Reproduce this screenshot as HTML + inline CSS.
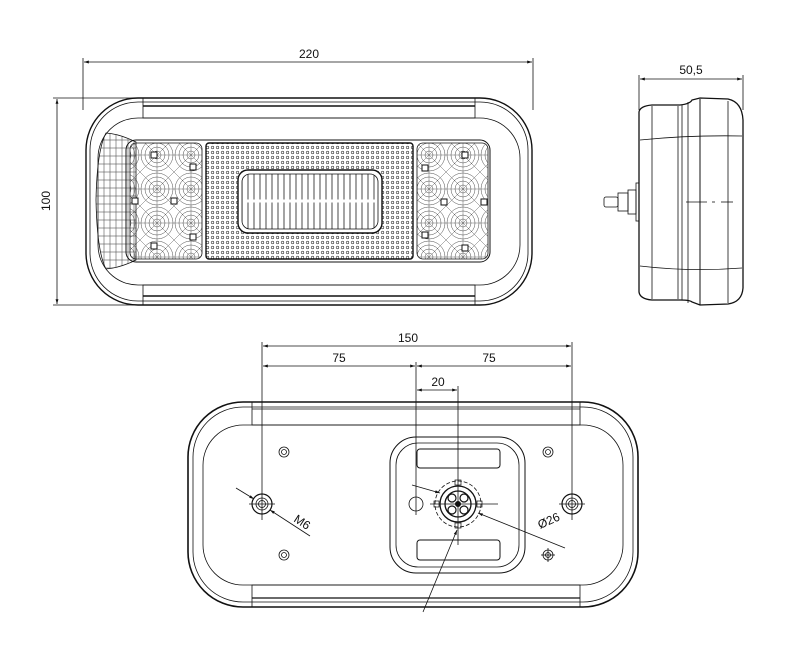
<!DOCTYPE html>
<html><head><meta charset="utf-8"><style>html,body{margin:0;padding:0;background:#fff}svg{display:block}</style></head>
<body>
<svg width="800" height="672" viewBox="0 0 800 672" xmlns="http://www.w3.org/2000/svg" font-family="Liberation Sans, sans-serif" fill="none" stroke="#111" stroke-width="1">
<defs>
<pattern id="dots" width="5" height="5" patternUnits="userSpaceOnUse"><circle cx="2.5" cy="2.5" r="1.3" stroke="#333" stroke-width="0.6"/></pattern>
<pattern id="vl" width="6" height="10" patternUnits="userSpaceOnUse"><line x1="2" y1="0" x2="2" y2="10" stroke="#333" stroke-width="0.9"/></pattern>
<pattern id="lens" width="6" height="8" patternUnits="userSpaceOnUse"><line x1="2" y1="0" x2="2" y2="8" stroke="#555" stroke-width="0.6"/><line x1="0" y1="4" x2="6" y2="4" stroke="#555" stroke-width="0.6"/></pattern>
<pattern id="web" width="34" height="34" patternUnits="userSpaceOnUse" x="4" y="2"><circle cx="17" cy="17" r="16" stroke="#444" stroke-width="0.5"/><circle cx="17" cy="17" r="12" stroke="#444" stroke-width="0.5"/><circle cx="17" cy="17" r="8" stroke="#444" stroke-width="0.5"/><circle cx="17" cy="17" r="4" stroke="#444" stroke-width="0.5"/><line x1="0" y1="17" x2="34" y2="17" stroke="#444" stroke-width="0.4"/><line x1="17" y1="0" x2="17" y2="34" stroke="#444" stroke-width="0.4"/><line x1="0" y1="0" x2="34" y2="34" stroke="#444" stroke-width="0.4"/><line x1="34" y1="0" x2="0" y2="34" stroke="#444" stroke-width="0.4"/></pattern>
<marker id="a" viewBox="0 0 10 10" refX="10" refY="5" markerWidth="8" markerHeight="6" orient="auto-start-reverse"><path d="M0,2 L10,5 L0,8z" fill="#111" stroke="none"/></marker>
</defs>

<!-- ===== FRONT VIEW ===== -->
<line x1="83" y1="58" x2="83" y2="110" stroke-width="0.8"/>
<line x1="533" y1="58" x2="533" y2="110" stroke-width="0.8"/>
<line x1="84" y1="62" x2="532" y2="62" marker-start="url(#a)" marker-end="url(#a)" stroke-width="0.8"/>
<text x="309" y="58" font-size="12" fill="#111" stroke="none" text-anchor="middle">220</text>
<line x1="53" y1="98" x2="145" y2="98" stroke-width="0.8"/>
<line x1="53" y1="305" x2="145" y2="305" stroke-width="0.8"/>
<line x1="57" y1="99" x2="57" y2="304" marker-start="url(#a)" marker-end="url(#a)" stroke-width="0.8"/>
<text x="0" y="0" font-size="12" fill="#111" stroke="none" text-anchor="middle" transform="translate(50,201) rotate(-90)">100</text>

<rect x="86" y="98" width="446" height="207" rx="52" stroke-width="1.4"/>
<rect x="90" y="102" width="438" height="199" rx="48" stroke-width="0.8"/>
<rect x="98" y="118" width="422" height="167" rx="40" stroke-width="0.8"/>
<rect x="143" y="98" width="332" height="20" stroke-width="0.8"/>
<line x1="143" y1="106" x2="475" y2="106" stroke-width="1.6"/>
<rect x="143" y="285" width="332" height="20" stroke-width="0.8"/>
<line x1="143" y1="296" x2="475" y2="296" stroke-width="1.6"/>
<!-- left corner lens -->
<path d="M136,142 Q120,134 106,133 Q97,150 96,200 Q97,252 106,269 Q120,268 136,260 Z" fill="url(#lens)" stroke-width="0.8"/>
<!-- panel -->
<rect x="126" y="140" width="364" height="122" rx="10" stroke-width="1"/>
<rect x="130" y="143" width="72" height="116" rx="6" fill="url(#web)" stroke-width="0.8"/>
<rect x="206" y="143" width="207" height="116" rx="3" fill="url(#dots)" stroke-width="1.4"/>
<rect x="238" y="170" width="144" height="63" rx="10" fill="#fff" stroke-width="1.4"/>
<rect x="242" y="174" width="136" height="55" rx="8" fill="url(#vl)" stroke-width="0.8"/>
<line x1="244" y1="201" x2="376" y2="201" stroke="#fff" stroke-width="3"/>
<rect x="417" y="143" width="71" height="116" rx="6" fill="url(#web)" stroke-width="0.8"/>
<g fill="#fff" stroke-width="1">
<rect x="151" y="152" width="6" height="6"/><rect x="151" y="243" width="6" height="6"/>
<rect x="132" y="198" width="6" height="6"/><rect x="171" y="198" width="6" height="6"/>
<rect x="190" y="164" width="6" height="6"/><rect x="190" y="234" width="6" height="6"/>
<rect x="462" y="152" width="6" height="6"/><rect x="462" y="245" width="6" height="6"/>
<rect x="422" y="165" width="6" height="6"/><rect x="422" y="232" width="6" height="6"/>
<rect x="441" y="199" width="6" height="6"/><rect x="481" y="199" width="6" height="6"/>
</g>

<!-- ===== SIDE VIEW ===== -->
<line x1="639" y1="75" x2="639" y2="110" stroke-width="0.8"/>
<line x1="743" y1="75" x2="743" y2="110" stroke-width="0.8"/>
<line x1="640" y1="79" x2="742" y2="79" marker-start="url(#a)" marker-end="url(#a)" stroke-width="0.8"/>
<text x="691" y="74" font-size="12" fill="#111" stroke="none" text-anchor="middle">50,5</text>
<path d="M639,112 Q640,106 652,105 L680,105 Q690,104 692,100 L700,98 L728,99 Q742,102 743,120 L743,288 Q742,302 728,304 L700,305 L692,302 Q690,300 680,300 L652,300 Q640,299 639,292 Z" stroke-width="1.3"/>
<line x1="652" y1="106" x2="652" y2="299" stroke-width="0.8"/>
<line x1="678" y1="106" x2="678" y2="299" stroke-width="0.8"/>
<line x1="682" y1="105" x2="682" y2="300" stroke-width="0.8"/>
<line x1="688" y1="102" x2="688" y2="303" stroke-width="0.8"/>
<line x1="700" y1="99" x2="700" y2="305" stroke-width="1"/>
<line x1="728" y1="101" x2="728" y2="303" stroke-width="0.8"/>
<path d="M640,140 Q690,135 742,136" stroke-width="0.8"/>
<path d="M640,266 Q690,272 742,268" stroke-width="0.8"/>
<line x1="686" y1="202" x2="707" y2="202" stroke-width="0.8"/>
<line x1="712" y1="202" x2="715" y2="202" stroke-width="0.8"/>
<line x1="721" y1="202" x2="733" y2="202" stroke-width="0.8"/>
<rect x="636" y="183" width="3" height="38" stroke-width="0.8"/>
<rect x="628" y="190" width="8" height="24" stroke-width="0.8"/>
<rect x="618" y="193" width="10" height="18" stroke-width="0.8"/>
<rect x="604" y="197" width="14" height="10" rx="2" stroke-width="0.8"/>

<!-- ===== BOTTOM VIEW ===== -->
<line x1="262" y1="342" x2="262" y2="520" stroke-width="0.8"/>
<line x1="572" y1="342" x2="572" y2="520" stroke-width="0.8"/>
<line x1="263" y1="346" x2="571" y2="346" marker-start="url(#a)" marker-end="url(#a)" stroke-width="0.8"/>
<text x="408" y="342" font-size="12" fill="#111" stroke="none" text-anchor="middle">150</text>
<line x1="263" y1="366" x2="415" y2="366" marker-start="url(#a)" marker-end="url(#a)" stroke-width="0.8"/>
<line x1="417" y1="366" x2="571" y2="366" marker-start="url(#a)" marker-end="url(#a)" stroke-width="0.8"/>
<text x="339" y="362" font-size="12" fill="#111" stroke="none" text-anchor="middle">75</text>
<text x="489" y="362" font-size="12" fill="#111" stroke="none" text-anchor="middle">75</text>
<line x1="416" y1="362" x2="416" y2="515" stroke-width="0.8"/>
<line x1="458" y1="386" x2="458" y2="545" stroke-width="0.8"/>
<line x1="417" y1="390" x2="457" y2="390" marker-start="url(#a)" marker-end="url(#a)" stroke-width="0.8"/>
<text x="438" y="386" font-size="12" fill="#111" stroke="none" text-anchor="middle">20</text>

<rect x="188" y="402" width="450" height="205" rx="55" stroke-width="1.6"/>
<rect x="193" y="407" width="440" height="195" rx="50" stroke-width="0.8"/>
<rect x="203" y="425" width="420" height="160" rx="40" stroke-width="0.8"/>
<rect x="252" y="402" width="328" height="23" stroke-width="0.8"/>
<line x1="252" y1="409" x2="580" y2="409" stroke-width="0.8"/>
<rect x="252" y="585" width="328" height="22" stroke-width="0.8"/>
<line x1="252" y1="598" x2="580" y2="598" stroke-width="1.2"/>
<!-- recess -->
<rect x="390" y="437" width="135" height="136" rx="26" stroke-width="1"/>
<rect x="396" y="443" width="123" height="124" rx="22" stroke-width="0.8"/>
<rect x="417" y="449" width="83" height="19" rx="3" stroke-width="1"/>
<rect x="417" y="540" width="83" height="20" rx="3" stroke-width="1"/>
<!-- connector -->
<circle cx="458" cy="504" r="23" stroke-width="0.8" stroke-dasharray="4,2"/>
<circle cx="458" cy="504" r="18" stroke-width="1.3"/>
<circle cx="458" cy="504" r="13" stroke-width="1.3"/>
<circle cx="452" cy="498" r="4" stroke-width="1.2"/><circle cx="464" cy="498" r="4" stroke-width="1.2"/>
<circle cx="452" cy="510" r="4" stroke-width="1.2"/><circle cx="464" cy="510" r="4" stroke-width="1.2"/>
<circle cx="458" cy="504" r="2.5" fill="#111"/>
<rect x="455" y="480" width="6" height="5" stroke-width="0.7"/><rect x="455" y="523" width="6" height="5" stroke-width="0.7"/>
<rect x="434" y="501" width="5" height="6" stroke-width="0.7"/><rect x="477" y="501" width="5" height="6" stroke-width="0.7"/>
<line x1="430" y1="504" x2="498" y2="504" stroke-width="0.8"/>
<circle cx="416" cy="504" r="7" stroke-width="0.8"/>
<!-- holes -->
<circle cx="262" cy="504" r="10" stroke-width="1.2"/><circle cx="262" cy="504" r="6" stroke-width="0.8"/><circle cx="262" cy="504" r="3.5" stroke-width="0.8"/>
<line x1="249" y1="504" x2="275" y2="504" stroke-width="0.8"/>
<circle cx="572" cy="504" r="10" stroke-width="1.2"/><circle cx="572" cy="504" r="6" stroke-width="0.8"/><circle cx="572" cy="504" r="3.5" stroke-width="0.8"/>
<line x1="559" y1="504" x2="585" y2="504" stroke-width="0.8"/>
<g stroke-width="0.8">
<circle cx="284" cy="452" r="5"/><circle cx="284" cy="452" r="2.5"/>
<circle cx="284" cy="555" r="5"/><circle cx="284" cy="555" r="2.5"/>
<circle cx="548" cy="452" r="5"/><circle cx="548" cy="452" r="2.5"/>
<circle cx="548" cy="555" r="5"/><circle cx="548" cy="555" r="2.5"/>
<line x1="541" y1="555" x2="555" y2="555"/><line x1="548" y1="548" x2="548" y2="562"/>
</g>
<!-- leaders -->
<line x1="236" y1="488" x2="254" y2="499" marker-end="url(#a)" stroke-width="0.8"/>
<line x1="310" y1="536" x2="270" y2="510" marker-end="url(#a)" stroke-width="0.8"/>
<text x="0" y="0" font-size="12" fill="#111" stroke="none" transform="translate(293,521) rotate(33)">M6</text>
<line x1="412" y1="485" x2="440" y2="493" marker-end="url(#a)" stroke-width="0.8"/>
<line x1="565" y1="548" x2="478" y2="513" marker-end="url(#a)" stroke-width="0.8"/>
<text x="0" y="0" font-size="12" fill="#111" stroke="none" transform="translate(540,529) rotate(-24)">Ø26</text>
<line x1="423" y1="612" x2="457" y2="530" marker-end="url(#a)" stroke-width="0.8"/>
</svg>
</body></html>
